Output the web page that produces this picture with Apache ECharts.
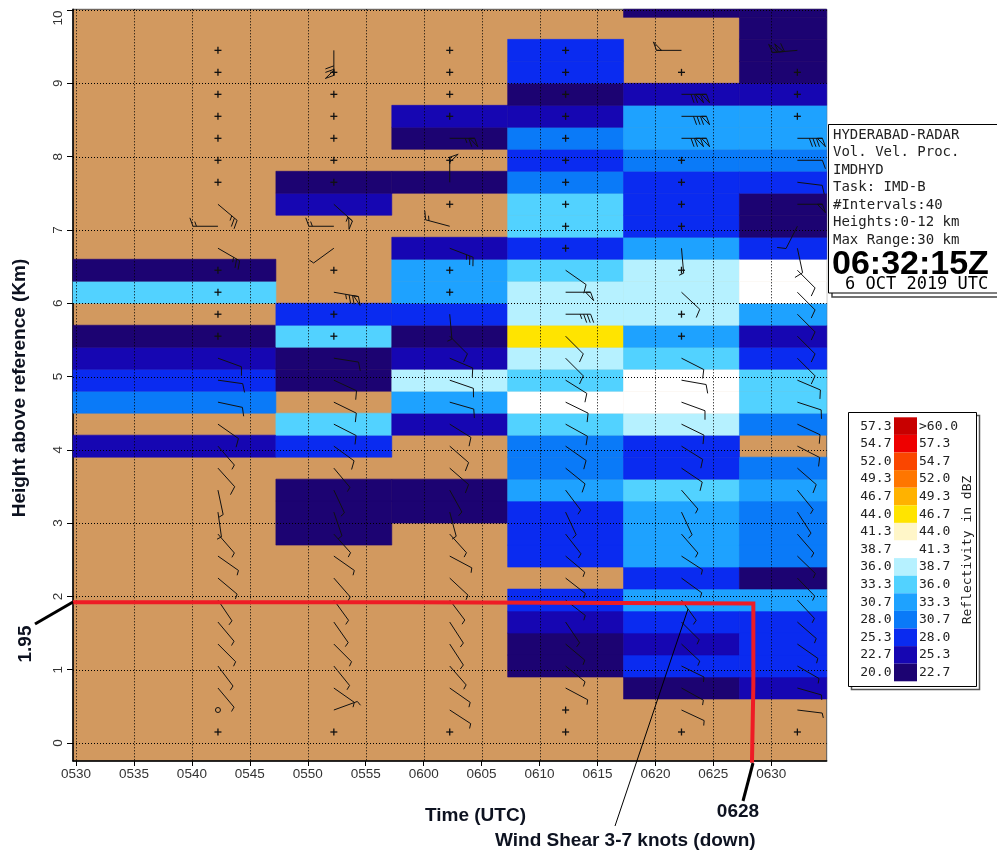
<!DOCTYPE html>
<html><head><meta charset="utf-8">
<script src="https://cdn.jsdelivr.net/npm/echarts@6/dist/echarts.min.js"></script>
<style>html,body{margin:0;padding:0;background:#fff}#c{width:997px;height:852px}</style>
</head><body><div id="c"></div>
<script>
// ---- data ----
// profile times, minutes after 05:00 UTC
const profileTimes = [42.25, 52.25, 62.25, 72.25, 82.25, 92.25];
// time spans of the reflectivity columns (minutes after 05:00)
const columnEdges = [20, 47.25, 57.25, 67.25, 77.25, 87.25, 97.25];
// height interval edges (km)
const rowEdges = [0,0.3,0.6,0.9,1.2,1.5,1.8,2.1,2.4,2.7,3.0,3.3,3.6,3.9,4.2,4.5,4.8,5.1,5.4,5.7,6.0,6.3,6.6,6.9,7.2,7.5,7.8,8.1,8.4,8.7,9.0,9.3,9.6,9.9,10.2];
const xTickValues = [30,35,40,45,50,55,60,65,70,75,80,85,90];
const xTickLabels = ['0530','0535','0540','0545','0550','0555','0600','0605','0610','0615','0620','0625','0630'];
const yTickValues = [0,1,2,3,4,5,6,7,8,9,10];
const dbzBounds = [20.0,22.7,25.3,28.0,30.7,33.3,36.0,38.7,41.3,44.0,46.7,49.3,52.0,54.7,57.3];
const dbzColors = ['#1c0372','#1606b2','#0a2bf0','#0a7af8','#1ea2ff','#52d2ff','#b6f1ff','#ffffff','#fff6c8','#ffe400','#ffb200','#ff7600','#fa4600','#ee0000','#c80000'];

// reflectivity (dBZ) per height interval, bottom to top
const refl0542 = [null,null,null,null,null,null,null,null,null,null,null,null,null,24,null,29.3,26.6,24,21.3,null,34.6,21.3,null,null,null,null,null,null,null,null,null,null,null,null];
const refl0552 = [null,null,null,null,null,null,null,null,null,21.3,21.3,21.3,null,26.6,34.6,null,21.3,21.3,34.6,26.6,null,null,null,null,24,21.3,null,null,null,null,null,null,null,null];
const refl0602 = [null,null,null,null,null,null,null,null,null,null,21.3,21.3,null,null,24,32,37.3,24,21.3,26.6,32,32,24,null,null,21.3,null,21.3,24,null,null,null,null,null];
const refl0612 = [null,null,null,21.3,21.3,24,26.6,null,26.6,26.6,26.6,32,29.3,29.3,34.6,40,34.6,37.3,45.3,37.3,37.3,34.6,26.6,34.6,34.6,29.3,26.6,29.3,24,21.3,26.6,26.6,null,null];
const refl0622 = [null,null,21.3,26.6,24,26.6,32,26.6,32,32,32,34.6,26.6,26.6,37.3,40,40,34.6,32,37.3,37.3,37.3,32,26.6,26.6,26.6,29.3,32,32,24,null,null,null,21.3];
const refl0632 = [null,null,24,26.6,26.6,26.6,32,21.3,29.3,29.3,29.3,32,29.3,null,29.3,34.6,34.6,26.6,24,32,40,40,26.6,21.3,21.3,26.6,29.3,32,32,24,21.3,21.3,21.3,21.3];

// winds per height interval: null = no estimate (+), 0 = calm, [direction of staff in deg, speed kt]
const wind0542 = [null,0,[140,5],[143,5],[135,5],[140,5],[146,5],[130,5],[125,5],[139,5],[172,5],[168,5],[138,10],[139,5],[125,10],[102,10],[98,10],[110,10],null,null,null,null,[120,25],[270,15],[130,25],null,null,null,null,null,null,null];
const wind0552 = [null,[70,5],[125,5],[141,5],[135,5],[145,5],[144,5],[139,5],[125,5],[138,5],[161,5],[155,5],[140,5],[126,10],[117,10],[116,10],[115,10],[99,10],null,null,[100,75],null,[234,5],[270,15],[132,55],null,null,null,null,null,null,[180,70]];
const wind0602 = [null,[123,5],[125,5],[139,5],[147,5],[147,5],[143,5],[133,5],[118,5],[138,5],[165,5],[151,5],[131,10],[131,10],[122,10],[106,10],[109,10],[113,10],[135,10],[175,5],null,null,[111,25],[285,15],null,[0,50],null,[90,65],null,null,null,null];
const wind0612 = [null,null,[118,5],[129,5],[130,5],[146,5],[128,5],[128,5],[130,5],[142,5],[155,5],[143,5],[129,10],[125,10],[119,10],[116,10],[122,10],[135,10],[135,10],[90,35],[90,50],[125,10],null,null,null,null,null,null,null,null,null,null];
const wind0622 = [null,[115,5],[119,5],[116,5],[133,5],[135,5],[144,5],[126,5],[123,5],[139,5],[155,5],[139,5],[124,10],[122,10],[116,10],[110,10],[100,10],[117,10],null,null,[133,10],null,[175,5],null,null,null,null,[90,120],[90,80],[90,120],null,[270,50]];
const wind0632 = [null,[97,5],[106,5],[120,5],[125,5],[131,5],[137,5],[136,5],[134,5],[139,5],[147,5],[141,5],[131,10],[117,10],[115,10],[108,10],[113,10],[135,10],[135,10],[135,10],[135,10],[135,10],[168,10],[207,10],[90,50],[97,10],[90,10],[90,80],null,null,null,[265,110]];

// annotation line (shear level / time)
const shearLineX = [29.741, 59.02, 59.02, 88.45, 88.45, 88.33, 88.33];
const shearLineY = [1.919, 1.919, 1.903, 1.903, 0.79, 0.79, -0.27];

// ---- build ----
const reflCols = [refl0542, refl0552, refl0602, refl0612, refl0622, refl0632];
const windCols = [wind0542, wind0552, wind0602, wind0612, wind0622, wind0632];

function dbzColor(v) {
  for (let i = dbzBounds.length - 1; i >= 0; i--) if (v >= dbzBounds[i]) return dbzColors[i];
  return null;
}

const cellData = [];
reflCols.forEach((col, c) => col.forEach((v, k) => {
  if (v != null) cellData.push([columnEdges[c], columnEdges[c + 1], rowEdges[k], rowEdges[k + 1], v]);
}));

const windData = [];
windCols.forEach((col, c) => col.forEach((w, k) => {
  const h = (rowEdges[k] + rowEdges[k + 1]) / 2;
  if (w === null) windData.push([profileTimes[c], h, 0, 0, 0]);
  else if (w === 0) windData.push([profileTimes[c], h, 1, 0, 0]);
  else windData.push([profileTimes[c], h, 2, w[0], w[1]]);
}));

const gridLineData = xTickValues.map(v => [0, v]).concat(yTickValues.map(v => [1, v]));

const INK = '#111';
function barbChildren(cx, cy, ang, spd) {
  const L = 25, r = ang * Math.PI / 180;
  const ux = Math.sin(r), uy = -Math.cos(r);
  const rb = (ang + 70) * Math.PI / 180, bx = Math.sin(rb), by = -Math.cos(rb);
  const tx = cx + L * ux, ty = cy + L * uy;
  const st = { stroke: INK, lineWidth: 1 };
  const ch = [{ type: 'line', shape: { x1: cx, y1: cy, x2: tx, y2: ty }, style: st }];
  let s = Math.round(spd / 5) * 5, pos = 0;
  const pt = d => [tx - d * ux, ty - d * uy];
  while (s >= 50) {
    const a = pt(pos), c = pt(pos + 5);
    ch.push({ type: 'polygon', shape: { points: [a, [a[0] + 9 * bx, a[1] + 9 * by], c] }, style: { fill: 'none', stroke: INK, lineWidth: 1 } });
    pos += 6; s -= 50;
  }
  while (s >= 10) {
    const a = pt(pos);
    ch.push({ type: 'line', shape: { x1: a[0], y1: a[1], x2: a[0] + 9 * bx, y2: a[1] + 9 * by }, style: st });
    pos += 3.5; s -= 10;
  }
  if (s >= 5) {
    const a = pt(pos);
    ch.push({ type: 'line', shape: { x1: a[0], y1: a[1], x2: a[0] + 5 * bx, y2: a[1] + 5 * by }, style: st });
  }
  return ch;
}

const chart = echarts.init(document.getElementById('c'), null, { renderer: 'canvas' });
const GL = 73, GT = 9.3, GW = 753.7, GH = 751.7;

// legend graphics
const legend = [];
legend.push({ type: 'rect', shape: { x: 851.5, y: 415.5, width: 128, height: 274 }, style: { fill: '#fff', stroke: '#555', lineWidth: 1.5 }, z: 10 });
legend.push({ type: 'rect', shape: { x: 848.5, y: 412.5, width: 128, height: 274 }, style: { fill: '#fff', stroke: '#000', lineWidth: 1 }, z: 11 });
for (let j = 0; j < dbzColors.length; j++) {
  const i = dbzColors.length - 1 - j;
  const top = 417.3 + 17.6 * j;
  legend.push({ type: 'rect', shape: { x: 894, y: top, width: 23, height: 17.6 }, style: { fill: dbzColors[i] }, z: 12 });
  legend.push({ type: 'text', x: 891.5, y: top + 9, style: { text: dbzBounds[i].toFixed(1), font: '13px "DejaVu Sans Mono", monospace', fill: '#222', align: 'right', verticalAlign: 'middle', textAlign: 'right', textVerticalAlign: 'middle' }, z: 12 });
  const up = i === dbzColors.length - 1 ? '>60.0' : dbzBounds[i + 1].toFixed(1);
  legend.push({ type: 'text', x: 919, y: top + 9, style: { text: up, font: '13px "DejaVu Sans Mono", monospace', fill: '#222', align: 'left', verticalAlign: 'middle', textAlign: 'left', textVerticalAlign: 'middle' }, z: 12 });
}
legend.push({ type: 'text', x: 968, y: 550, rotation: Math.PI / 2, style: { text: 'Reflectivity in dBZ', font: '13px "DejaVu Sans Mono", monospace', fill: '#222', align: 'center', verticalAlign: 'middle', textAlign: 'center', textVerticalAlign: 'middle' }, z: 12 });

// info box
const infoLines = ['HYDERABAD-RADAR', 'Vol. Vel. Proc.', 'IMDHYD', 'Task: IMD-B', '#Intervals:40', 'Heights:0-12 km', 'Max Range:30 km'];
const info = [
  { type: 'rect', shape: { x: 832, y: 128.5, width: 200, height: 168.5 }, style: { fill: '#fff', stroke: '#444', lineWidth: 1.5 }, z: 10 },
  { type: 'rect', shape: { x: 828.5, y: 124.5, width: 200, height: 168.5 }, style: { fill: '#fff', stroke: '#000', lineWidth: 1 }, z: 11 }
];
infoLines.forEach((t, i) => info.push({ type: 'text', x: 833, y: 135 + 17.5 * i, style: { text: t, font: '14px "DejaVu Sans Mono", monospace', fill: '#222', align: 'left', verticalAlign: 'middle', textAlign: 'left', textVerticalAlign: 'middle' }, z: 12 }));
info.push({ type: 'text', x: 832, y: 265, style: { text: '06:32:15Z', font: 'bold 34px "Liberation Sans", Arial, sans-serif', fill: '#000', align: 'left', verticalAlign: 'middle', textAlign: 'left', textVerticalAlign: 'middle' }, z: 12 });
info.push({ type: 'text', x: 845, y: 285, style: { text: '6 OCT 2019 UTC', font: '17px "DejaVu Sans Mono", monospace', fill: '#000', align: 'left', verticalAlign: 'middle', textAlign: 'left', textVerticalAlign: 'middle' }, z: 12 });

const BOLD = 'bold 19px "Liberation Sans", Arial, sans-serif';
const TXT = '#0d1220';
const annot = [
  { type: 'text', x: 20, y: 388, rotation: Math.PI / 2, style: { text: 'Height above reference (Km)', font: BOLD, fill: TXT, align: 'center', verticalAlign: 'middle', textAlign: 'center', textVerticalAlign: 'middle' }, z: 12 },
  { type: 'text', x: 425, y: 816, style: { text: 'Time (UTC)', font: BOLD, fill: TXT, align: 'left', verticalAlign: 'middle', textAlign: 'left', textVerticalAlign: 'middle' }, z: 12 },
  { type: 'text', x: 495, y: 841, style: { text: 'Wind Shear 3-7 knots (down)', font: BOLD, fill: TXT, align: 'left', verticalAlign: 'middle', textAlign: 'left', textVerticalAlign: 'middle' }, z: 12 },
  { type: 'text', x: 738, y: 812, style: { text: '0628', font: BOLD, fill: TXT, align: 'center', verticalAlign: 'middle', textAlign: 'center', textVerticalAlign: 'middle' }, z: 12 },
  { type: 'text', x: 26, y: 644, rotation: Math.PI / 2, style: { text: '1.95', font: BOLD, fill: TXT, align: 'center', verticalAlign: 'middle', textAlign: 'center', textVerticalAlign: 'middle' }, z: 12 },
  { type: 'line', shape: { x1: 35, y1: 624, x2: 73, y2: 602 }, style: { stroke: '#000', lineWidth: 3 }, z: 12 },
  { type: 'line', shape: { x1: 753, y1: 763, x2: 743, y2: 801 }, style: { stroke: '#000', lineWidth: 3 }, z: 12 },
  { type: 'line', shape: { x1: 615, y1: 826, x2: 688, y2: 609 }, style: { stroke: '#000', lineWidth: 1 }, z: 12 }
];

const option = {
  animation: false,
  backgroundColor: '#fff',
  grid: { left: GL, top: GT, width: GW, height: GH, show: true, backgroundColor: '#d2995f', borderColor: '#555', borderWidth: 1, containLabel: false, outerBoundsMode: 'none' },
  xAxis: {
    type: 'value', min: 29.741, max: 94.78,
    axisLine: { show: true, onZero: false, lineStyle: { color: '#000', width: 1.5 } },
    axisTick: { show: true, customValues: xTickValues, length: 5, lineStyle: { color: '#000' } },
    axisLabel: { customValues: xTickValues, formatter: v => xTickLabels[xTickValues.indexOf(v)], color: '#333', fontSize: 13.5, fontFamily: '"Liberation Sans", Arial, sans-serif', margin: 6 },
    splitLine: { show: false }
  },
  yAxis: {
    type: 'value', min: -0.2456, max: 10.01,
    axisLine: { show: true, onZero: false, lineStyle: { color: '#000', width: 1.5 } },
    axisTick: { show: true, customValues: yTickValues, length: 6, lineStyle: { color: '#000' } },
    axisLabel: {
      customValues: yTickValues, rotate: 90, color: '#333', fontSize: 13.5, fontFamily: '"Liberation Sans", Arial, sans-serif', margin: 8,
      formatter: v => v === 10 ? '{t|10}' : String(v),
      rich: { t: { fontSize: 13.5, color: '#333', fontFamily: '"Liberation Sans", Arial, sans-serif', padding: [0, 16, 0, 0] } }
    },
    splitLine: { show: false }
  },
  series: [
    {
      type: 'custom', z: 1, data: cellData, encode: { x: [0, 1], y: [2, 3] },
      renderItem(params, api) {
        const p0 = api.coord([api.value(0), api.value(3)]);
        const p1 = api.coord([api.value(1), api.value(2)]);
        const cs = params.coordSys;
        const rect = echarts.graphic.clipRectByRect(
          { x: p0[0], y: p0[1], width: p1[0] - p0[0], height: p1[1] - p0[1] },
          { x: cs.x, y: cs.y, width: cs.width, height: cs.height });
        if (!rect) return;
        const col = dbzColor(api.value(4));
        return { type: 'rect', shape: rect, style: { fill: col, stroke: col, lineWidth: 0.6 } };
      }
    },
    {
      type: 'custom', z: 2, data: gridLineData, silent: true,
      renderItem(params, api) {
        const cs = params.coordSys;
        const kind = api.value(0), v = api.value(1);
        let shape;
        if (kind === 0) {
          const x = Math.round(api.coord([v, 0])[0]) + 0.5;
          shape = { x1: x, y1: cs.y, x2: x, y2: cs.y + cs.height };
        } else {
          const y = Math.round(api.coord([30, v])[1]) + 0.5;
          shape = { x1: cs.x, y1: y, x2: cs.x + cs.width, y2: y };
        }
        return { type: 'line', shape, style: { stroke: '#000', lineWidth: 1, lineDash: [1, 2] } };
      }
    },
    {
      type: 'custom', z: 3, data: windData, encode: { x: 0, y: 1 },
      renderItem(params, api) {
        const p = api.coord([api.value(0), api.value(1)]);
        const kind = api.value(2);
        let children;
        if (kind === 0) {
          children = [
            { type: 'line', shape: { x1: p[0] - 3.5, y1: p[1], x2: p[0] + 3.5, y2: p[1] }, style: { stroke: INK, lineWidth: 1.3 } },
            { type: 'line', shape: { x1: p[0], y1: p[1] - 3.5, x2: p[0], y2: p[1] + 3.5 }, style: { stroke: INK, lineWidth: 1.3 } }
          ];
        } else if (kind === 1) {
          children = [{ type: 'circle', shape: { cx: p[0], cy: p[1], r: 2.5 }, style: { fill: 'none', stroke: INK, lineWidth: 1 } }];
        } else {
          children = barbChildren(p[0], p[1], api.value(3), api.value(4));
        }
        return { type: 'group', children };
      }
    },
    {
      type: 'line', z: 4, clip: false, symbol: 'none', silent: true,
      data: shearLineX.map((x, i) => [x, shearLineY[i]]),
      lineStyle: { color: '#ee1c25', width: 4, cap: 'butt', join: 'miter' }
    }
  ],
  graphic: { elements: legend.concat(info, annot) }
};
chart.setOption(option);
</script></body></html>
